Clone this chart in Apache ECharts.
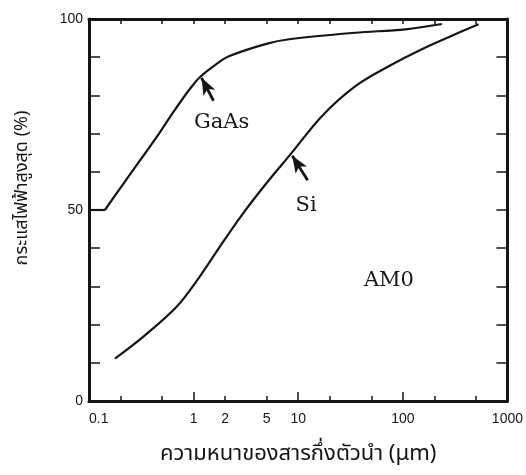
<!DOCTYPE html>
<html><head><meta charset="utf-8">
<script src="https://cdn.jsdelivr.net/npm/echarts@6/dist/echarts.min.js"></script>
<style>html,body{margin:0;padding:0;background:#fff}#c{width:526px;height:475px}</style>
</head><body><div id="c"></div>
<script>
// Data
const gaasFlatX = [0.1, 0.142];
const gaasFlatY = [50, 50];
const gaasX = [0.142, 0.212, 0.306, 0.441, 0.635, 0.916, 1.14, 1.65, 2.2, 4.95, 8.2, 35, 106, 236];
const gaasY = [50, 56.8, 62.9, 69.0, 75.5, 81.6, 84.7, 88.2, 90.3, 93.5, 94.7, 96.4, 97.3, 98.7];
const siX = [0.177, 0.329, 0.684, 1.14, 1.77, 2.95, 4.9, 8.5, 17, 35.5, 74, 152, 317, 530];
const siY = [11.1, 16.8, 24.6, 32.5, 40.3, 49.0, 56.8, 64.7, 74.7, 82.5, 87.7, 92.1, 96, 98.6];
const xLabelValues = [0.1, 1, 2, 5, 10, 100, 1000];
const xMinorTicks = [0.2, 0.5, 2, 5, 20, 50, 200, 500];
const xDecadeTicks = [1, 10, 100];
const yLabelValues = [0, 50, 100];
const xTitle = 'ความหนาของสารกึ่งตัวนำ (μm)';
const yTitle = 'กระแสไฟฟ้าสูงสุด (%)';
const notes = [
  { text: 'GaAs', x: 1.85, y: 72.8 },
  { text: 'Si', x: 11.9, y: 51.2 },
  { text: 'AM0', x: 73.6, y: 31.6 }
];
const arrows = [
  { from: [1.55, 78.6], to: [1.19, 84.6] },
  { from: [12.3, 57.8], to: [8.77, 64.2] }
];

const zip = (xs, ys) => xs.map((x, i) => [x, ys[i]]);
const ink = '#151515';
const serif = '"DejaVu Serif", "Liberation Serif", serif';
const sans = '"Liberation Sans", Arial, sans-serif';
const thai = '"Noto Sans", "Noto Sans Thai", sans-serif';

const baseX = {
  type: 'log', logBase: 10, min: 0.1, max: 1000, gridIndex: 0,
  splitLine: { show: false }, minorTick: { show: false }
};
const chart = echarts.init(document.getElementById('c'));
chart.setOption({
  animation: false,
  backgroundColor: '#fff',
  grid: { left: 89, right: 17, top: 19, bottom: 74 },
  xAxis: [
    Object.assign({}, baseX, {
      position: 'bottom',
      name: xTitle, nameLocation: 'middle', nameGap: 42,
      nameTextStyle: { fontFamily: thai, fontSize: 22, color: ink },
      axisLine: { show: true, lineStyle: { color: ink, width: 3 } },
      axisTick: { show: true, inside: true, length: 5, customValues: xMinorTicks, lineStyle: { color: ink, width: 1.5 } },
      axisLabel: { show: true, customValues: xLabelValues, margin: 11, fontFamily: sans, fontSize: 14, color: ink,
        alignMinLabel: 'left', formatter: v => String(v) }
    }),
    Object.assign({}, baseX, {
      position: 'bottom',
      axisLine: { show: false },
      axisTick: { show: true, inside: true, length: 9, customValues: xDecadeTicks, lineStyle: { color: ink, width: 1.5 } },
      axisLabel: { show: false }
    }),
    Object.assign({}, baseX, {
      position: 'top',
      axisLine: { show: true, lineStyle: { color: ink, width: 3 } },
      axisTick: { show: true, inside: true, length: 5, customValues: xMinorTicks.concat(xDecadeTicks), lineStyle: { color: ink, width: 1.5 } },
      axisLabel: { show: false }
    })
  ],
  yAxis: [
    {
      type: 'value', min: 0, max: 100, interval: 10, position: 'left',
      name: yTitle, nameLocation: 'middle', nameGap: 58, nameRotate: 90,
      nameTextStyle: { fontFamily: thai, fontSize: 18, color: ink, padding: [0, 0, 0, 44] },
      splitLine: { show: false },
      axisLine: { show: true, lineStyle: { color: ink, width: 3 } },
      axisTick: { show: true, inside: true, length: 11, lineStyle: { color: ink, width: 1.5 } },
      axisLabel: { show: true, customValues: yLabelValues, margin: 6, fontFamily: sans, fontSize: 14, color: ink }
    },
    {
      type: 'value', min: 0, max: 100, interval: 10, position: 'right',
      splitLine: { show: false },
      axisLine: { show: true, lineStyle: { color: ink, width: 3 } },
      axisTick: { show: true, inside: true, length: 11, lineStyle: { color: ink, width: 1.5 } },
      axisLabel: { show: false }
    }
  ],
  series: [
    { type: 'line', name: 'GaAs flat', data: zip(gaasFlatX, gaasFlatY), showSymbol: false,
      lineStyle: { color: ink, width: 2.2 }, silent: true },
    { type: 'line', name: 'GaAs', data: zip(gaasX, gaasY), smooth: 0.35, showSymbol: false,
      lineStyle: { color: ink, width: 2.2 }, silent: true,
      markLine: {
        silent: true, symbol: ['none', 'arrow'], symbolSize: [10, 17],
        lineStyle: { color: ink, width: 2.8, type: 'solid' }, label: { show: false },
        data: arrows.map(a => [{ coord: a.from }, { coord: a.to }])
      },
      markPoint: {
        silent: true, symbol: 'circle', symbolSize: 0,
        label: { show: true, position: 'inside', fontFamily: serif, fontSize: 21, color: ink, formatter: p => p.name },
        data: notes.map(n => ({ name: n.text, coord: [n.x, n.y] }))
      }
    },
    { type: 'line', name: 'Si', data: zip(siX, siY), smooth: 0.35, showSymbol: false,
      lineStyle: { color: ink, width: 2.2 }, silent: true }
  ]
});
</script></body></html>
